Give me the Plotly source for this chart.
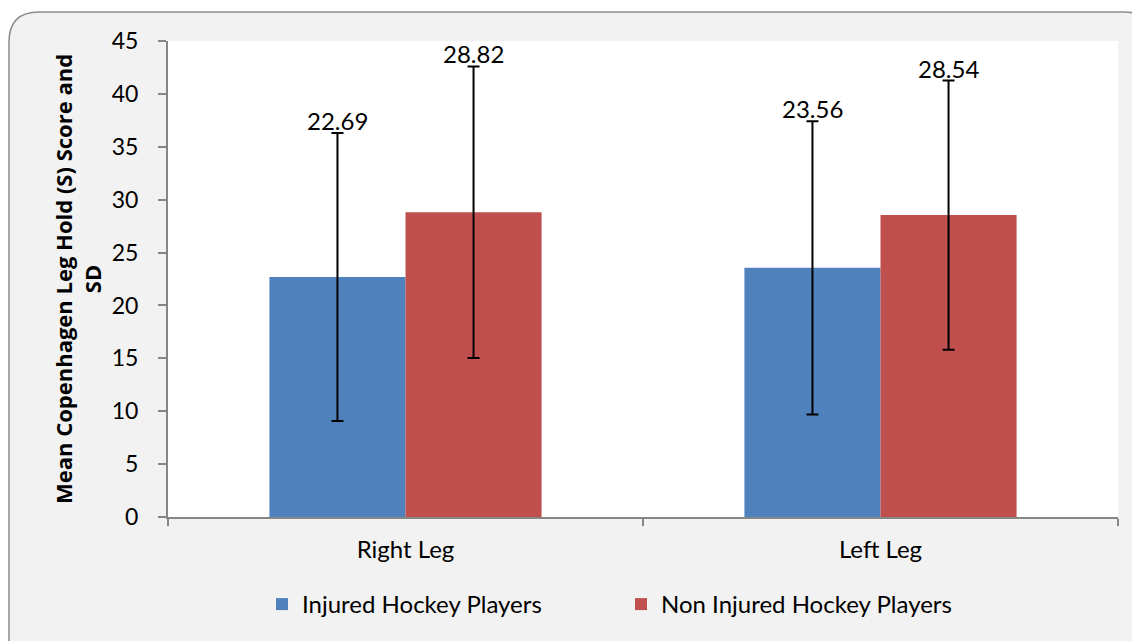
import plotly.graph_objects as go

categories = ["Right Leg", "Left Leg"]
series_names = ["Injured Hockey Players", "Non Injured Hockey Players"]
injured_mean = [22.69, 23.56]
injured_sd = [13.62, 13.86]
noninjured_mean = [28.82, 28.54]
noninjured_sd = [13.78, 12.72]
y_ticks = [0, 5, 10, 15, 20, 25, 30, 35, 40, 45]

colors = ["#4F81BD", "#C0504D"]
FONT = "Lato"
TITLE_FONT = "Open Sans"
OFF = 8  # page body margin
W, H = 1140 - OFF, 641 - OFF
ML, MT = 168 - OFF, 41 - OFF
MR = W - (1118 - OFF)
MB = H - (517 - OFF)
BARGAP = 0.427
plot_w = W - ML - MR
plot_h = H - MT - MB

def px_x(px):  # window pixel -> paper x
    return (px - OFF - ML) / plot_w

def px_y(py):  # window pixel -> paper y
    return (H - MB - (py - OFF)) / plot_h

fig = go.Figure()
for name, means, sds, col in [
    (series_names[0], injured_mean, injured_sd, colors[0]),
    (series_names[1], noninjured_mean, noninjured_sd, colors[1]),
]:
    fig.add_trace(go.Bar(
        x=categories, y=means, name=name, marker=dict(color=col, line=dict(width=0)),
        error_y=dict(type="data", array=sds, visible=True, color="black", thickness=2, width=6),
    ))

cat_w = plot_w / len(categories)
bar_w = cat_w * (1 - BARGAP) / 2
for means, sds, sign in [(injured_mean, injured_sd, -1), (noninjured_mean, noninjured_sd, 1)]:
    for c, m, s in zip(categories, means, sds):
        fig.add_annotation(x=c, y=m + s, text=f"{m:.2f}", showarrow=False,
                           xshift=sign * bar_w / 2, yanchor="bottom", yshift=-4,
                           font=dict(family=FONT, size=24, color="black"))

# rounded chart-area border (gray area) then white plot area on top
x0, y0, x1, y1 = px_x(9), px_y(12), px_x(1154), px_y(700)
r = 30
rx, ry = r / plot_w, r / plot_h
path = (f"M {x0} {y1} L {x0} {y0 - ry} Q {x0} {y0} {x0 + rx} {y0} "
        f"L {x1 - rx} {y0} Q {x1} {y0} {x1} {y0 - ry} L {x1} {y1} Z")
fig.add_shape(type="path", path=path, xref="paper", yref="paper", layer="below",
              fillcolor="#F2F2F2", line=dict(color="#8C8C8C", width=1.5))
fig.add_shape(type="rect", x0=0, x1=1, y0=0, y1=1, xref="paper", yref="paper",
              layer="below", fillcolor="white", line=dict(width=0))

fig.update_layout(
    width=W, height=H,
    margin=dict(l=ML, r=MR, t=MT, b=MB, autoexpand=False),
    paper_bgcolor="white", plot_bgcolor="rgba(0,0,0,0)",
    barmode="group", bargap=BARGAP, bargroupgap=0,
    font=dict(family=FONT, size=24, color="black"),
    showlegend=True,
    legend=dict(orientation="h", x=px_x(262), xanchor="left", y=px_y(582), yanchor="top",
                font=dict(family=FONT, size=24, color="black"), bgcolor="rgba(0,0,0,0)",
                itemwidth=30, entrywidth=314, entrywidthmode="pixels"),
    xaxis=dict(type="category", showline=True, linecolor="#868686", linewidth=2,
               ticks="outside", tickson="boundaries", ticklen=7, tickcolor="#868686",
               tickwidth=1.5, showgrid=False, tickfont=dict(size=24, color="black"),
               ticklabelstandoff=10, fixedrange=True),
    yaxis=dict(range=[0, 45], tickvals=y_ticks, showline=True, linecolor="#868686",
               linewidth=2, ticks="outside", ticklen=8, tickcolor="#868686", tickwidth=1.5,
               showgrid=False, zeroline=False, tickfont=dict(size=23, color="black"),
               ticklabelstandoff=15,
               title=dict(text="<b>Mean Copenhagen Leg Hold (S) Score and<br>SD</b>",
                          font=dict(family=TITLE_FONT, size=22, weight="bold", color="black"),
                          standoff=4)),
)

fig.write_html("out.html")
